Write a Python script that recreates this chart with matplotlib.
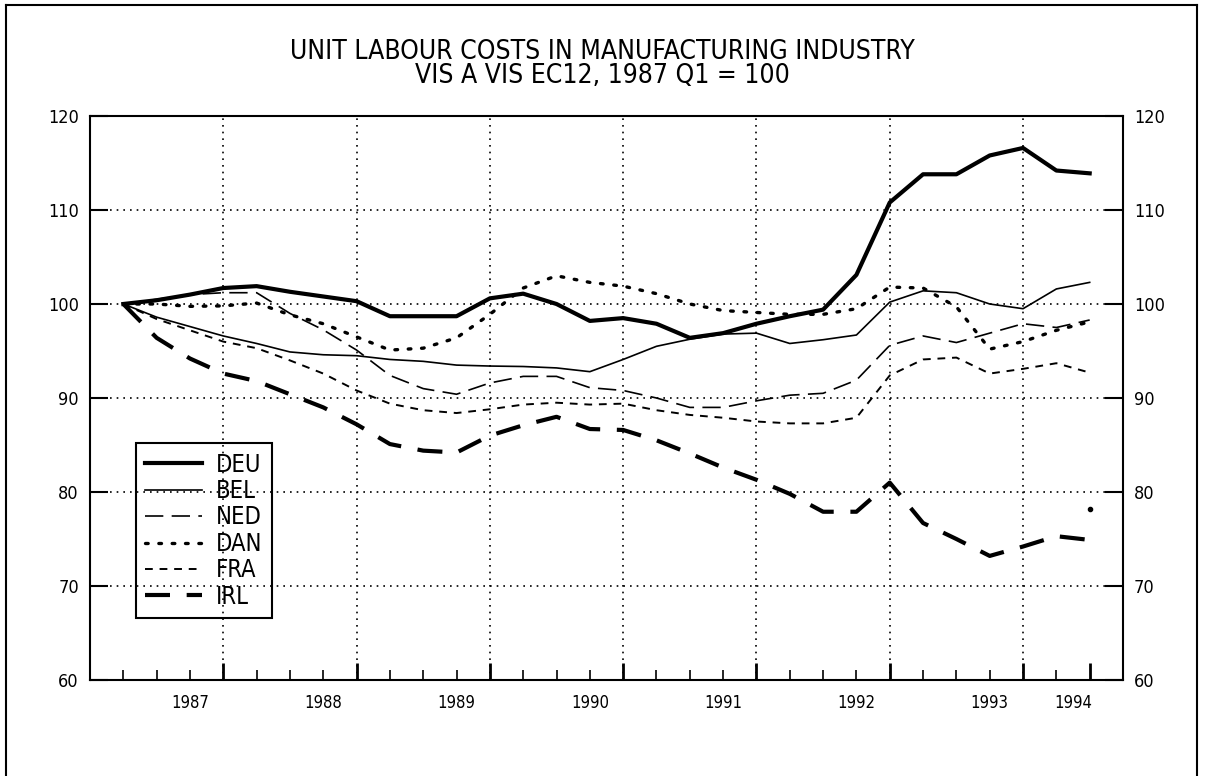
import matplotlib
matplotlib.use("Agg")
import matplotlib.pyplot as plt
from matplotlib.lines import Line2D
import numpy as np

plt.rcParams['font.family'] = ['DejaVu Sans']
plt.rcParams['font.stretch'] = 'condensed'

# quarterly index, 0 = base quarter
quarters = np.arange(30)
year_labels = ['1987', '1988', '1989', '1990', '1991', '1992', '1993', '1994']
year_label_pos = [2, 6, 10, 14, 18, 22, 26, 28.5]
grid_x = [3, 7, 11, 15, 19, 23, 27]
tall_ticks = [3, 7, 11, 15, 19, 23, 27, 29]
y_ticks = [60, 70, 80, 90, 100, 110, 120]
grid_y = [70, 80, 90, 100, 110]

deu = [100, 100.4, 101.0, 101.7, 101.9, 101.3, 100.8, 100.3, 98.7, 98.7,
       98.7, 100.6, 101.1, 100.0, 98.2, 98.5, 97.9, 96.4, 96.9, 97.9,
       98.7, 99.4, 103.1, 110.8, 113.8, 113.8, 115.8, 116.6, 114.2, 113.9]
bel = [100, 98.6, 97.6, 96.6, 95.8, 94.9, 94.6, 94.5, 94.1, 93.9,
       93.5, 93.4, 93.35, 93.2, 92.8, 94.1, 95.5, 96.25, 96.8, 96.9,
       95.8, 96.2, 96.7, 100.2, 101.4, 101.2, 100.0, 99.5, 101.6, 102.3]
ned = [100, 100.5, 101.0, 101.2, 101.2, 99.0, 97.25, 95.1, 92.4, 91.0,
       90.4, 91.6, 92.3, 92.3, 91.1, 90.8, 90.0, 89.0, 89.0, 89.7,
       90.3, 90.5, 91.9, 95.6, 96.6, 95.9, 96.9, 97.9, 97.5, 98.3]
dan = [100, 100.0, 99.75, 99.8, 100.1, 98.85, 97.9, 96.5, 95.1, 95.3,
       96.4, 98.9, 101.7, 103.0, 102.3, 101.9, 101.1, 100.0, 99.3, 99.1,
       98.9, 98.9, 99.5, 101.8, 101.7, 99.7, 95.2, 96.0, 97.2, 98.1]
fra = [100, 98.4, 97.2, 96.0, 95.3, 94.0, 92.6, 90.8, 89.4, 88.7,
       88.4, 88.8, 89.3, 89.5, 89.3, 89.4, 88.7, 88.2, 87.9, 87.5,
       87.3, 87.3, 87.9, 92.4, 94.1, 94.3, 92.6, 93.1, 93.7, 92.7]
irl = [100, 96.4, 94.2, 92.6, 91.8, 90.4, 89.0, 87.2, 85.1, 84.4,
       84.2, 86.0, 87.1, 88.0, 86.7, 86.6, 85.5, 84.1, 82.6, 81.3,
       79.8, 77.9, 77.9, 81.0, 76.7, 75.0, 73.2, 74.2, 75.3, 74.9]
irl_last_mark = 78.2

fig = plt.figure(figsize=(12.05, 7.76), dpi=100)
ax = fig.add_axes([90 / 1205, 1 - 680 / 776, 1033 / 1205, 564 / 776])

# page frame
fig.add_artist(Line2D([6 / 1205, 6 / 1205], [0, 1 - 5 / 776], color='black', lw=1.5))
fig.add_artist(Line2D([6 / 1205, 1197 / 1205], [1 - 5 / 776, 1 - 5 / 776], color='black', lw=1.5))
fig.add_artist(Line2D([1197 / 1205, 1197 / 1205], [0, 1 - 5 / 776], color='black', lw=1.5))

dot = (0, (1, 3))
ax.vlines(grid_x, 60, 120, colors='black', linestyles=dot, lw=1.2, zorder=1)
ax.hlines(grid_y, -1, 30, colors='black', linestyles=dot, lw=1.2, zorder=1)

ax.plot(quarters, deu, color='black', lw=3.0, label='DEU')
ax.plot(quarters, bel, color='black', lw=1.2, label='BEL')
ax.plot(quarters, ned, color='black', lw=1.2, dashes=(11, 5), label='NED')
ax.plot(quarters, dan, color='black', lw=2.4, dashes=(0.8, 3.2),
        dash_capstyle='round', label='DAN')
ax.plot(quarters, fra, color='black', lw=1.4, dashes=(4, 3.5), label='FRA')
ax.plot(quarters, irl, color='black', lw=3.0, dashes=(6, 4), label='IRL')
ax.plot(quarters[-1], irl_last_mark, 'o', color='black', ms=3)

ax.set_xlim(-1, 30)
ax.set_ylim(60, 120)

ax.set_xticks(tall_ticks)
ax.set_xticklabels([])
ax.set_xticks(quarters, minor=True)
ax.tick_params(axis='x', which='major', direction='in', length=12, width=2)
ax.tick_params(axis='x', which='minor', direction='in', length=7, width=1.2)

sec = ax.secondary_xaxis('bottom')
sec.set_xticks(year_label_pos, year_labels)
sec.tick_params(length=0, pad=10, labelsize=12)
sec.spines['bottom'].set_visible(False)

ax.set_yticks(y_ticks)
ax.tick_params(axis='y', which='major', direction='in', length=13, width=1.5,
               left=True, right=True, labelleft=True, labelright=True,
               labelsize=13, pad=8)

for s in ax.spines.values():
    s.set_linewidth(1.5)

leg = ax.legend(loc='lower left', bbox_to_anchor=(0.0445, 0.11), borderaxespad=0,
                fontsize=17, handlelength=2.4, handletextpad=0.6,
                labelspacing=0.1, borderpad=0.4, fancybox=False,
                edgecolor='black', facecolor='none', framealpha=1)
leg.get_frame().set_linewidth(1.5)

fig.text(0.5, 1 - 52 / 776, 'UNIT LABOUR COSTS IN MANUFACTURING INDUSTRY',
         ha='center', va='center', fontsize=19)
fig.text(0.5, 1 - 76 / 776, 'VIS A VIS EC12, 1987 Q1 = 100',
         ha='center', va='center', fontsize=19)

fig.savefig('out.png', dpi=100, facecolor='white')
